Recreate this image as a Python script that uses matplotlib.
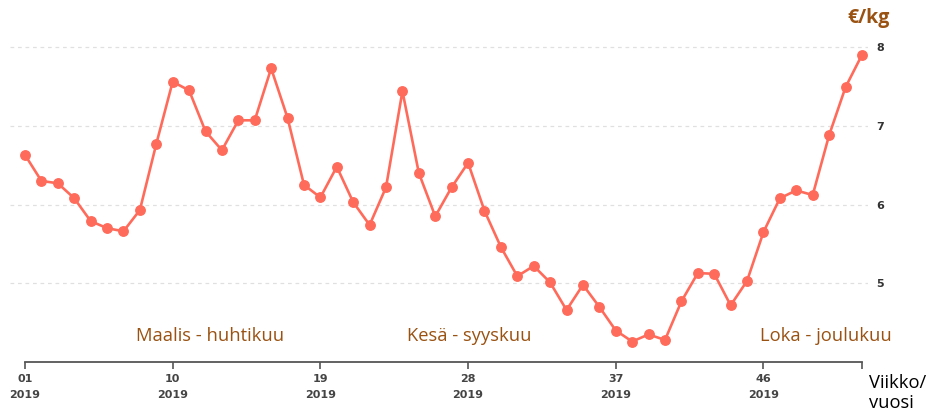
import numpy as np
import matplotlib.pyplot as plt

weeks = list(range(1, 53))
price = [6.63, 6.30, 6.27, 6.08, 5.79, 5.70, 5.66, 5.93, 6.77, 7.56,
         7.45, 6.93, 6.69, 7.07, 7.07, 7.73, 7.10, 6.25, 6.09, 6.48,
         6.03, 5.74, 6.22, 7.44, 6.40, 5.85, 6.22, 6.53, 5.92, 5.46,
         5.09, 5.22, 5.01, 4.66, 4.98, 4.70, 4.40, 4.26, 4.35, 4.28,
         4.77, 5.13, 5.12, 4.72, 5.03, 5.65, 6.08, 6.18, 6.12, 6.88,
         7.49, 7.90]
tick_weeks = [1, 10, 19, 28, 37, 46]
tick_labels = ['01\n2019', '10\n2019', '19\n2019', '28\n2019', '37\n2019', '46\n2019']
y_ticks = [5, 6, 7, 8]
seasons = [('Maalis - huhtikuu', 12.3), ('Kesä - syyskuu', 28.1), ('Loka - joulukuu', 49.8)]

brown = '#9a5212'
line_col = '#ff6b5b'

fig = plt.figure(figsize=(9.34, 4.12), dpi=100)
ax = fig.add_axes([10 / 934, 50 / 412, 858 / 934, 322 / 412])

ax.plot(weeks, price, color=line_col, lw=1.9, marker='o', ms=6.8, zorder=3)

ax.set_xlim(0.086, 52.37)
ax.set_ylim(4.0, 8.09)

for y in y_ticks:
    ax.axhline(y, color='#e0e0e0', lw=0.9, ls=(0, (3, 3)), zorder=1)

for s in ['top', 'right', 'left']:
    ax.spines[s].set_visible(False)
ax.spines['bottom'].set_bounds(1, 52)
ax.spines['bottom'].set_color('#555555')
ax.spines['bottom'].set_linewidth(1.3)

ax.set_xticks(tick_weeks + [52])
ax.set_xticklabels(tick_labels + [''], fontsize=8, color='#444444',
                   fontweight='bold', linespacing=1.75)
ax.tick_params(axis='x', length=5, width=1.2, color='#555555', pad=4)

ax.yaxis.tick_right()
ax.set_yticks(y_ticks)
ax.set_yticklabels([str(v) for v in y_ticks], fontsize=8, color='#333333',
                   fontweight='bold')
ax.tick_params(axis='y', length=0, pad=6)

for label, x in seasons:
    ax.text(x, 4.33, label, color=brown, fontsize=13.2, ha='center',
            va='center', family='Open Sans')

fig.text(869 / 934, 1 - 18 / 412, '€/kg', color=brown, fontsize=14,
         fontweight='bold', ha='center', va='center', family='Open Sans')
fig.text(869 / 934, 1 - 393 / 412, 'Viikko/\nvuosi', color='black',
         fontsize=13.2, ha='left', va='center', family='Open Sans',
         linespacing=1.15)

fig.savefig('out.png', dpi=100)
